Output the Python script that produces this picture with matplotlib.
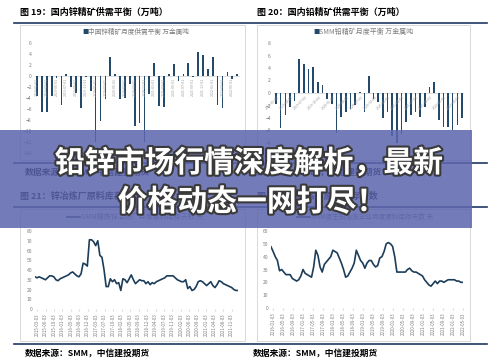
import matplotlib
matplotlib.use('Agg')
import matplotlib.pyplot as plt
from matplotlib.patches import Rectangle
from matplotlib.lines import Line2D
import matplotlib.patheffects as pe
import numpy as np

plt.rcParams['font.family'] = ['Noto Sans CJK SC', 'DejaVu Sans']

# ---------------- data ----------------
zinc_balance = [-3.6, -6.5, -6.5, -3.6, -0.3, -5.2, 0.3, -2.0, -3.0, -5.9, -0.2, -2.7,
                -12.0, -8.2, -4.2, 3.5, 0.3, -4.2, -4.0, -1.5, -9.1, -8.5, -12.0, -3.3,
                2.3, -5.5, -5.6, 0.4, 2.1, -0.9, 0.4, 2.3, -0.2, 4.3, 3.9, 1.2, 3.4,
                -5.2, -5.9, 0.8, -0.6, 0.4]
zinc_labels = ["2019-01-01", "2019-03-01", "2019-05-01", "2019-07-01", "2019-09-01", "2019-11-01",
               "2020-01-01", "2020-03-01", "2020-05-01", "2020-07-01", "2020-09-01", "2020-11-01",
               "2021-01-01", "2021-03-01", "2021-05-01", "2021-07-01", "2021-09-01", "2021-11-01",
               "2022-01-01", "2022-03-01", "2022-05-01"]

lead_balance = [-1.7, -5.6, -3.5, -2.2, -1.3, 5.4, 4.6, 3.9, 4.1, 1.7, 1.3, -1.0, -1.7,
                -6.4, -3.8, -3.1, -2.5, -1.9, 0.2, -3.1, 2.7, -1.0, -1.5, -4.0, -3.1,
                -6.8, -8.0, -6.5, -4.6, -3.5, -3.1, -3.8, -2.2, 1.0, 1.7, -4.3, -5.4,
                -5.4, -5.9, -5.1, -4.0]
lead_labels = ["2019-01-03", "2019-04-03", "2019-07-03", "2019-10-03", "2020-01-03", "2020-04-03",
               "2020-07-03", "2020-10-03", "2021-01-03", "2021-04-03", "2021-07-03", "2021-10-03",
               "2022-01-03", "2022-04-03"]

zinc_days = [33, 32, 33, 32, 31, 30, 32, 34, 34, 33,
             30, 29, 31, 32, 33, 34, 35, 37, 38, 36,
             34, 33, 36, 47, 46, 44, 71, 71, 69, 65,
             70, 55, 53, 40, 23, 23, 31, 28, 30, 26,
             27, 19, 31, 30, 27, 31, 35, 30, 26, 28,
             30, 29, 29, 26, 28, 25, 27, 26, 28, 29,
             30, 31, 32, 34, 34, 34, 34, 32, 30, 29,
             28, 28, 30, 21, 23, 19, 20, 23, 28, 29,
             28, 26, 24, 26, 28, 24, 22, 25, 29, 28,
             26, 25, 24, 23, 22, 20, 19, 19]
zinc_day_labels = ["2015-03-03", "2015-06-03", "2015-10-03", "2016-01-03", "2016-05-03", "2016-08-03",
                   "2016-12-03", "2017-03-03", "2017-07-03", "2017-10-03", "2018-02-03", "2018-05-03",
                   "2018-09-03", "2018-12-03", "2019-04-03", "2019-07-03", "2019-11-03", "2020-02-03",
                   "2020-06-03", "2020-09-03", "2021-01-03", "2021-04-03", "2021-08-03", "2021-11-03"]

lead_days = [47.7, 44, 40, 37, 29, 30, 28, 26, 26, 26,
             23, 22, 21, 22, 25, 30, 27, 26, 25, 24,
             32, 45, 41, 32, 28, 34, 36, 38, 40, 45,
             44, 43, 39, 35, 30, 24, 25, 28, 31, 35,
             45, 41, 37, 35, 31, 35, 37, 37, 34, 32,
             33, 39, 40, 44, 50, 51, 50, 48, 40, 28,
             28, 28, 28, 28, 30, 31, 29, 28, 28, 27,
             26, 25, 22, 20, 18, 17, 19, 21, 19, 21,
             21, 20, 21, 22, 22, 22, 22, 21, 21, 20,
             20]
lead_day_labels = ["2016-01-03", "2016-05-03", "2016-09-03", "2017-01-03", "2017-05-03", "2017-09-03",
                   "2018-01-03", "2018-05-03", "2018-09-03", "2019-01-03", "2019-05-03", "2019-09-03",
                   "2020-01-03", "2020-05-03", "2020-09-03", "2021-01-03", "2021-05-03", "2021-09-03",
                   "2022-01-03", "2022-05-03"]

titles = ["图 19：国内锌精矿供需平衡（万吨）", "图 20：国内铅精矿供需平衡（万吨）",
          "图 21：锌冶炼厂原料库存天数", "图 22：铅冶炼厂原料库存天数"]
legends = ["中国锌精矿月度供需平衡 万金属吨", "SMM铅精矿月度平衡 万金属吨",
           "SMM精炼锌冶炼厂月度原料库存天数 天", "SMM原生铅冶炼企业月度原料库存天数 天"]
source = "数据来源：SMM，中信建投期货"
banner_lines = ["铅锌市场行情深度解析，最新", "价格动态一网打尽！"]

# ---------------- styling ----------------
W, H = 499, 361
BAR = '#244a6b'
LINE = '#1c3d5a'
NAVY = '#1f3864'
GRAY = '#7f7f7f'
FRAME = '#d9d9d9'

fig = plt.figure(figsize=(W / 100, H / 100), dpi=100)
fig.patch.set_facecolor('white')


def add_ax(x0, y0, x1, y1):
    return fig.add_axes([x0 / W, 1 - y1 / H, (x1 - x0) / W, (y1 - y0) / H])


def ftext(x, y, s, **kw):
    return fig.text(x / W, 1 - y / H, s, **kw)


def hline(x0, x1, y, color, lw, z=2):
    fig.add_artist(Line2D([x0 / W, x1 / W], [1 - y / H, 1 - y / H], color=color, lw=lw,
                          transform=fig.transFigure, zorder=z))


def frame(x0, y0, x1, y1):
    fig.add_artist(Rectangle((x0 / W, 1 - y1 / H), (x1 - x0) / W, (y1 - y0) / H, fill=False,
                             ec=FRAME, lw=0.7, transform=fig.transFigure, zorder=1))


def style(ax):
    for s in ax.spines.values():
        s.set_visible(False)
    ax.tick_params(axis='y', length=0, labelsize=3.6, colors=GRAY, pad=2)
    ax.patch.set_alpha(0)


# frames
frame(20, 25, 245, 160)
frame(257, 25, 470, 160)
frame(20, 209, 245, 341)
frame(257, 209, 470, 341)

# navy rules
for y in (23, 163, 207, 344):
    hline(14, 487, y, NAVY, 1.2)

# titles & sources
ftext(20, 12, titles[0], fontsize=6.5, fontweight='bold', va='center')
ftext(257, 12, titles[1], fontsize=6.5, fontweight='bold', va='center')
ftext(20, 196, titles[2], fontsize=6.5, fontweight='bold', va='center')
ftext(257, 196, titles[3], fontsize=6.5, fontweight='bold', va='center')
for x, y in ((25, 172), (257, 172), (25, 353), (253, 353)):
    ftext(x, y, source, fontsize=6.3, fontweight='bold', style='italic', va='center')

# ---------- top-left bar chart ----------
ax1 = add_ax(34.6, 43, 239.6, 153)
style(ax1)
x1 = np.arange(len(zinc_balance))
ax1.bar(x1, zinc_balance, width=0.35, color=BAR, zorder=2)
ax1.axhline(0, color=FRAME, lw=0.6, zorder=1)
ax1.set_xlim(-0.5, len(zinc_balance) - 0.5)
ax1.set_ylim(-14, 6)
ax1.set_yticks(np.arange(-14, 7, 2))
ax1.set_xticks([])
for k, lab in enumerate(zinc_labels):
    ax1.text(x1[2 * k], -0.4, lab, rotation=90, ha='center', va='top', fontsize=2.6,
             color='#9a9a9a', zorder=3)
ftext(82, 32, '■', fontsize=4.5, color=BAR, va='center')
ftext(88, 32, legends[0], fontsize=4.8, color=GRAY, va='center')

# ---------- top-right bar chart ----------
ax2 = add_ax(273.7, 43, 464.3, 155.5)
style(ax2)
x2 = np.arange(len(lead_balance))
ax2.bar(x2, lead_balance, width=0.35, color=BAR, zorder=2)
ax2.axhline(0, color=FRAME, lw=0.6, zorder=1)
ax2.set_xlim(-0.5, len(lead_balance) - 0.5)
ax2.set_ylim(-10, 8)
ax2.set_yticks(np.arange(-10, 9, 2))
ax2.set_xticks([])
for k, lab in enumerate(lead_labels):
    ax2.text(x2[3 * k] + 0.3, -0.3, lab, rotation=45, ha='right', va='top', fontsize=2.6,
             color='#9a9a9a', zorder=3, rotation_mode='anchor')
ftext(313, 32, '■', fontsize=4.5, color=BAR, va='center')
ftext(319, 32, legends[1], fontsize=5.0, color=GRAY, va='center')

# ---------- bottom-left line chart ----------
ax3 = add_ax(35, 231, 238, 309)
style(ax3)
x3 = np.arange(len(zinc_days))
ax3.plot(x3, zinc_days, color=LINE, lw=1.2, solid_joinstyle='round')
ax3.axhline(0, color=FRAME, lw=0.6)
ax3.set_xlim(0, len(zinc_days) - 1)
ax3.set_ylim(0, 80)
ax3.set_yticks(np.arange(0, 81, 10))
ax3.set_xticks(np.linspace(1, len(zinc_days) - 4, len(zinc_day_labels)))
ax3.set_xticklabels(zinc_day_labels, rotation=90, fontsize=3.2, color=GRAY)
ax3.tick_params(axis='x', length=1.5, color=FRAME, pad=1.5)
hline(67, 80, 217, LINE, 1.2, z=1)
ftext(81, 217, legends[2], fontsize=5.0, color=GRAY, va='center')

# ---------- bottom-right line chart ----------
ax4 = add_ax(271, 231, 463, 308)
style(ax4)
x4 = np.arange(len(lead_days))
ax4.plot(x4, lead_days, color=LINE, lw=1.2, solid_joinstyle='round')
ax4.axhline(0, color=FRAME, lw=0.6)
ax4.set_xlim(0, len(lead_days) - 1)
ax4.set_ylim(0, 60)
ax4.set_yticks(np.arange(0, 61, 10))
ax4.set_xticks(np.linspace(1, len(lead_days) - 1, len(lead_day_labels)))
ax4.set_xticklabels(lead_day_labels, rotation=90, fontsize=3.2, color=GRAY)
ax4.tick_params(axis='x', length=1.5, color=FRAME, pad=1.5)
hline(297, 310, 217, LINE, 1.2, z=1)
ftext(311, 217, legends[3], fontsize=4.8, color=GRAY, va='center')

# ---------- banner ----------
fig.add_artist(Rectangle((0, 1 - 228 / H), 472 / W, 98 / H, facecolor='#5d65ae', alpha=0.86,
                         ec='none', transform=fig.transFigure, zorder=10))
stroke = [pe.withStroke(linewidth=3, foreground='#3a3a3a')]
ftext(249, 163, banner_lines[0], fontsize=21.5, fontweight='bold', color='white',
      ha='center', va='center', path_effects=stroke, zorder=11)
ftext(252, 202, banner_lines[1], fontsize=21.5, fontweight='bold', color='white',
      ha='center', va='center', path_effects=stroke, zorder=11)

fig.savefig('out.png', dpi=100, facecolor='white')
